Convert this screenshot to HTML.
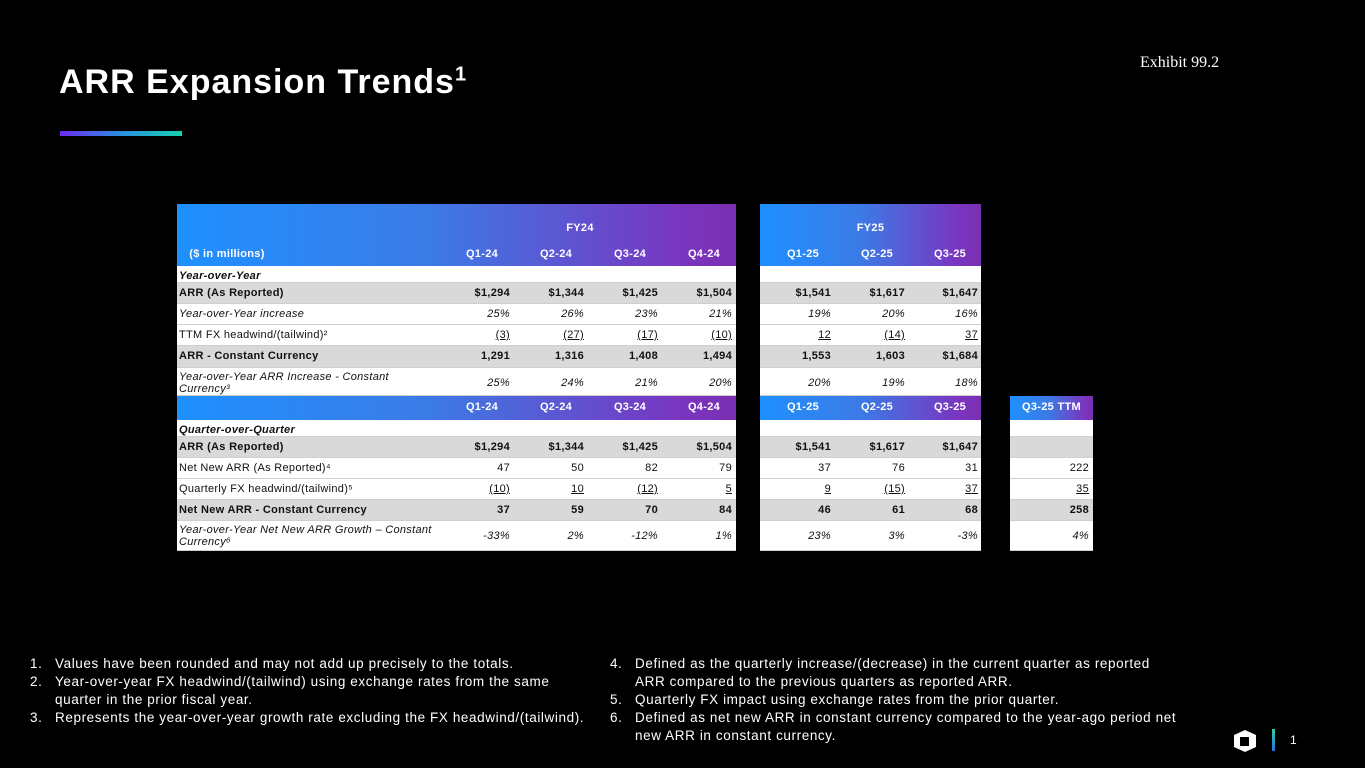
<!DOCTYPE html>
<html><head><meta charset="utf-8"><style>
body{margin:0;width:1365px;height:768px;background:#000;position:relative;overflow:hidden;font-family:"Liberation Sans",sans-serif;color:#fff}
.a{position:absolute}
.hdr{position:absolute;background:linear-gradient(90deg,#1e90ff,#3b7be6 45%,#7a35c0 90%,#7a2fb0)}
.row{position:absolute;background:#fff;border-bottom:1px solid #cfcfcf;box-sizing:border-box}
.g{background:#d9d9d9}
.c{position:absolute;font-size:11px;color:#111;white-space:nowrap;letter-spacing:0.3px}
.b{font-weight:bold}.i{font-style:italic}.u{text-decoration:underline}
.h{position:absolute;font-size:11px;font-weight:bold;color:#fff;white-space:nowrap;text-align:center;letter-spacing:0.3px}
.fn{position:absolute;font-size:13.5px;line-height:18px;color:#fff;letter-spacing:0.6px}
.fn span{position:absolute;left:0}
</style></head><body>
<div class="a" style="left:59px;top:63px;font-size:34px;font-weight:bold;letter-spacing:1px">ARR Expansion Trends<sup style="font-size:20px">1</sup></div>
<div class="a" style="left:60px;top:131px;width:122px;height:5px;background:linear-gradient(90deg,#6a2cf0,#2a8fe0,#16d0b0)"></div>
<div class="a" style="left:1140px;top:54px;font-family:'Liberation Serif',serif;font-size:16px">Exhibit 99.2</div>
<div id="t"></div>
<div class="fn" style="left:30px;top:655px;width:580px">
<div style="position:relative;padding-left:25px"><span>1.</span>Values have been rounded and may not add up precisely to the totals.</div>
<div style="position:relative;padding-left:25px"><span>2.</span>Year-over-year FX headwind/(tailwind) using exchange rates from the same<br>quarter in the prior fiscal year.</div>
<div style="position:relative;padding-left:25px"><span>3.</span>Represents the year-over-year growth rate excluding the FX headwind/(tailwind).</div></div>
<div class="fn" style="left:610px;top:655px;width:620px">
<div style="position:relative;padding-left:25px"><span>4.</span>Defined as the quarterly increase/(decrease) in the current quarter as reported<br>ARR compared to the previous quarters as reported ARR.</div>
<div style="position:relative;padding-left:25px"><span>5.</span>Quarterly FX impact using exchange rates from the prior quarter.</div>
<div style="position:relative;padding-left:25px"><span>6.</span>Defined as net new ARR in constant currency compared to the year-ago period net<br>new ARR in constant currency.</div></div>
<svg class="a" style="left:1232px;top:728px" width="26" height="26" viewBox="0 0 26 26"><path d="M13 2 L24 7 V19 L13 24 L2 19 V7Z" fill="#fff"/><path d="M8 9 H17 V18 H8Z" fill="#000"/></svg>
<div class="a" style="left:1272px;top:729px;width:3px;height:22px;background:linear-gradient(#2ed0a0,#2a6fe0)"></div>
<div class="a" style="left:1290px;top:733px;font-size:12px">1</div>
<script>
const fy24Cols=["Q1-24","Q2-24","Q3-24","Q4-24"];
const fy25Cols=["Q1-25","Q2-25","Q3-25"];
const yoyRows=[
["Year-over-Year","","bi",[]],
["ARR (As Reported)","g","b",["$1,294","$1,344","$1,425","$1,504","$1,541","$1,617","$1,647"]],
["Year-over-Year increase","","i",["25%","26%","23%","21%","19%","20%","16%"]],
["TTM FX headwind/(tailwind)²","","u",["(3)","(27)","(17)","(10)","12","(14)","37"]],
["ARR - Constant Currency","g","b",["1,291","1,316","1,408","1,494","1,553","1,603","$1,684"]],
["Year-over-Year ARR Increase - Constant<br>Currency³","","i",["25%","24%","21%","20%","20%","19%","18%"]]];
const qoqRows=[
["Quarter-over-Quarter","","bi",[]],
["ARR (As Reported)","g","b",["$1,294","$1,344","$1,425","$1,504","$1,541","$1,617","$1,647",""]],
["Net New ARR (As Reported)⁴","","",["47","50","82","79","37","76","31","222"]],
["Quarterly FX headwind/(tailwind)⁵","","u",["(10)","10","(12)","5","9","(15)","37","35"]],
["Net New ARR - Constant Currency","g","b",["37","59","70","84","46","61","68","258"]],
["Year-over-Year Net New ARR Growth – Constant<br>Currency⁶","","i",["-33%","2%","-12%","1%","23%","3%","-3%","4%"]]];
const rightEdges=[512,586,660,734,833,907,980,1091];
const blocks=[[177,736],[760,981],[1010,1093]];
const t=document.getElementById('t');
function el(cls,x,y,w,h,html,name){const d=document.createElement('div');d.className=cls;d.style.cssText=`left:${x}px;top:${y}px;width:${w}px;height:${h}px`;if(html!==undefined)d.innerHTML=html;


t.appendChild(d);return d;}
el('hdr',177,204,559,62,undefined,'fy24-header');el('hdr',760,204,221,62,undefined,'fy25-header');
el('h',420,222,320,14,'FY24','fy24-label');el('h',760,222,221,14,'FY25','fy25-label');
el('h',187,248,80,14,'($ in millions)','units-label');
const allCols=fy24Cols.concat(fy25Cols);
allCols.forEach((c,i)=>{el('h',rightEdges[i]-62,248,64,14,c,'col-header-'+c.toLowerCase());});
el('hdr',177,396,559,24,undefined,'qoq-header-fy24');el('hdr',760,396,221,24,undefined,'qoq-header-fy25');el('hdr',1010,396,83,24,undefined,'qoq-header-ttm');
allCols.forEach((c,i)=>{el('h',rightEdges[i]-62,401,64,14,c,'qoq-col-header-'+c.toLowerCase());});
el('h',1010,401,83,14,'Q3-25 TTM','ttm-col-header');
function rows(list,tops,nb){list.forEach((r,k)=>{const y=tops[k],h=tops[k+1]-y;
 for(let b=0;b<nb;b++){el('row'+(r[1]?' g':''),blocks[b][0],y,blocks[b][1]-blocks[b][0],h,undefined,'row-bg');}
 const tall=h>24;
 el('c '+r[2].replace('bi','b i').replace('u',''),179,y+(tall?3:4),260,h,r[0],'row-label');
 r[3].forEach((v,i)=>{const d=el('c '+r[2].replace('bi','b i'),rightEdges[i]-80,y+(tall?9:4),78,14,v,'cell-value');d.style.textAlign='right';});
});}
rows(yoyRows,[266,283,304,325,346,368,396],2);
rows(qoqRows,[420,437,458,479,500,521,551],3);
</script>
</body></html>
